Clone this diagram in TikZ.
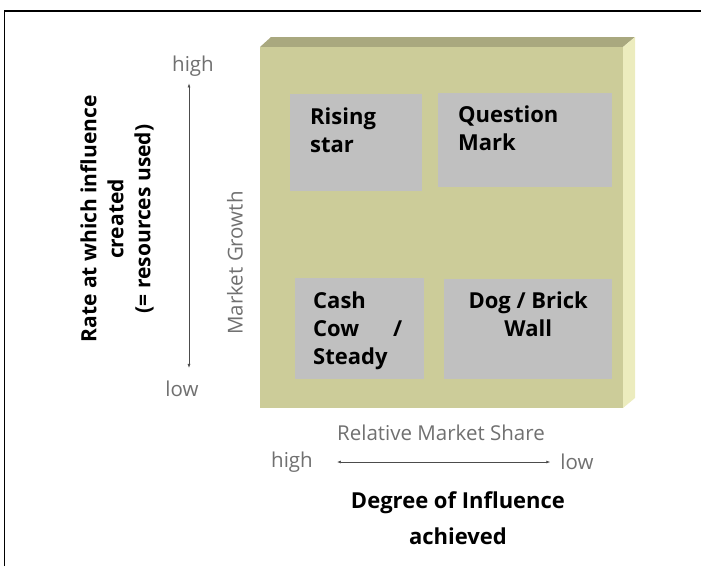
\documentclass[tikz,border=0pt]{standalone}
\usepackage{fontspec}
\setmainfont{Open Sans}
\usetikzlibrary{arrows.meta,positioning}
\definecolor{matface}{HTML}{CCCC99}
\definecolor{bevtop}{HTML}{A9A87F}
\definecolor{bevside}{HTML}{ECECBE}
\definecolor{quadgray}{HTML}{C0C0C0}
\definecolor{axgray}{HTML}{707070}
\begin{document}
\begin{tikzpicture}[x=1pt,y=-1pt,
	quad/.style={fill=quadgray, inner sep=0pt, anchor=north west},
	quadtext/.style={font=\fontsize{22}{28}\selectfont\bfseries, inner sep=0pt, anchor=north west, align=left},
	bigtext/.style={font=\fontsize{21}{27}\selectfont\bfseries, inner sep=0pt, align=center},
	axtext/.style={font=\fontsize{20.5}{24}\selectfont, text=axgray, inner sep=0pt},
	axarrow/.style={{Latex[length=4pt,width=3pt]}-{Latex[length=4pt,width=3pt]}, draw=black!70, line width=0.6pt}]

	\useasboundingbox (0,0) rectangle (701,566);
	\draw[line width=1.5pt] (4.5,566) -- (4.5,11) -- (701,11);

	% the board
	\fill[bevtop] (260,47) -- (271,37) -- (635,37) -- (623,47) -- cycle;
	\fill[bevside] (623,47) -- (635,37) -- (635,398) -- (623,408) -- cycle;
	\node[fill=matface, minimum width=363pt, minimum height=361pt, inner sep=0pt, anchor=north west] (board) at (260,47) {};

	% quadrants
	\node[quad, minimum width=132pt, minimum height=97pt] (rs) at (290,94) {};
	\node[quad, minimum width=174pt, minimum height=94pt] (qm) at (438,93) {};
	\node[quad, minimum width=129pt, minimum height=101pt] (cc) at (295,278) {};
	\node[quad, minimum width=168pt, minimum height=100pt] (dg) at (444,279) {};

	\node[quadtext] (rs-t) at ([shift={(20pt,-14pt)}]rs.north west) {Rising\\star};
	\node[quadtext] (qm-t) at ([shift={(20pt,-13pt)}]qm.north west) {Question\\Mark};
	\node[quadtext, text width=89pt] (cc-t) at ([shift={(18pt,-14pt)}]cc.north west) {Cash\\Cow\hfill/\\Steady};
	\node[quadtext, anchor=north, align=center] (dg-t) at ([yshift=-13pt]dg.north) {Dog / Brick\\Wall};

	% vertical axis
	\node[axtext] (mg-hi) at (193,66) {high};
	\node[axtext] (mg-lo) at (182,389) {low};
	\draw[axarrow, shorten <=7pt, shorten >=13pt] ([xshift=-4pt]mg-hi.south) -- ([xshift=-4pt]mg-hi.south |- mg-lo.north);
	\node[axtext, rotate=90] (mg) at (235,263) {Market Growth};
	\node[bigtext, rotate=90] (rate) at (117,219) {Rate at which influence\\created\\(= resources used)};

	% horizontal axis
	\node[axtext] (rms) at (441,433) {Relative Market Share};
	\node[axtext] (ms-hi) at (292,462) {high};
	\node[axtext] (ms-lo) at (577,462) {low};
	\draw[axarrow, shorten <=24pt, shorten >=10pt] (ms-hi.east) -- (ms-hi.east -| ms-lo.west);
	\node[bigtext, font=\fontsize{22}{36}\selectfont\bfseries] (deg) at (458,518) {Degree of Influence\\achieved};
\end{tikzpicture}
\end{document}
